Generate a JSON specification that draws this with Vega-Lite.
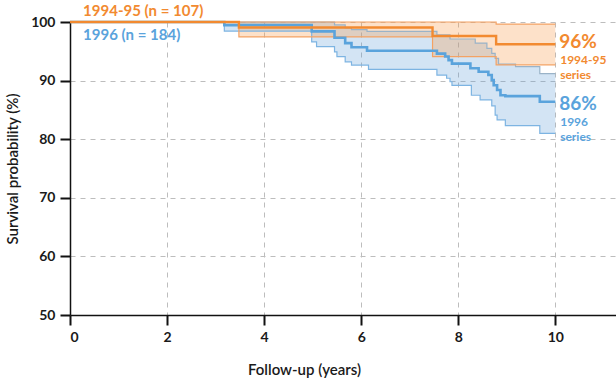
{
  "$schema": "https://vega.github.io/schema/vega-lite/v6.json",
  "width": 546,
  "height": 293,
  "autosize": {"type": "none"},
  "padding": {"left": 70, "top": 22, "right": 0, "bottom": 63},
  "background": "white",
  "config": {
    "view": {"stroke": null},
    "font": "Lato",
    "axis": {
      "domainColor": "#111",
      "domainWidth": 1.5,
      "tickColor": "#111",
      "tickWidth": 2,
      "tickSize": 10,
      "labelFont": "Lato",
      "labelFontSize": 14,
      "labelFontWeight": "bold",
      "labelColor": "#1a1a1a",
      "titleFont": "Lato",
      "titleFontSize": 15,
      "titleFontWeight": 600,
      "titleColor": "#1a1a1a",
      "gridColor": "#bdbdbd",
      "gridDash": [5, 5],
      "gridWidth": 1
    }
  },
  "datasets": {
    "orange": [
      {"t": 0, "s": 100, "lo": 100, "hi": 100},
      {"t": 3.48, "s": 99.07, "lo": 97.45, "hi": 100},
      {"t": 7.47, "s": 97.6, "lo": 94.1, "hi": 100},
      {"t": 8.78, "s": 96.2, "lo": 92.7, "hi": 99.65},
      {"t": 10, "s": 96.2, "lo": 92.7, "hi": 99.65}
    ],
    "blue": [
      {"t": 0, "s": 100, "lo": 100, "hi": 100},
      {"t": 3.18, "s": 99.46, "lo": 98.45, "hi": 100},
      {"t": 4.98, "s": 98.4, "lo": 96.6, "hi": 100},
      {"t": 5.08, "s": 98.4, "lo": 95.8, "hi": 100},
      {"t": 5.45, "s": 97.3, "lo": 94.9, "hi": 99.5},
      {"t": 5.5, "s": 97.3, "lo": 94.1, "hi": 99.5},
      {"t": 5.67, "s": 96.4, "lo": 93.2, "hi": 99.0},
      {"t": 5.8, "s": 95.7, "lo": 92.65, "hi": 98.7},
      {"t": 6.12, "s": 95.1, "lo": 92.65, "hi": 98.4},
      {"t": 6.15, "s": 95.1, "lo": 91.9, "hi": 98.4},
      {"t": 7.56, "s": 94.6, "lo": 90.95, "hi": 97.8},
      {"t": 7.73, "s": 94.1, "lo": 90.95, "hi": 97.8},
      {"t": 7.76, "s": 94.1, "lo": 90.4, "hi": 97.8},
      {"t": 7.8, "s": 93.5, "lo": 90.4, "hi": 97.8},
      {"t": 7.83, "s": 93.5, "lo": 89.8, "hi": 97.1},
      {"t": 7.87, "s": 92.9, "lo": 89.2, "hi": 97.1},
      {"t": 8.25, "s": 92.1, "lo": 89.2, "hi": 97.1},
      {"t": 8.27, "s": 92.1, "lo": 87.5, "hi": 97.1},
      {"t": 8.35, "s": 92.1, "lo": 87.5, "hi": 96.4},
      {"t": 8.42, "s": 91.5, "lo": 87.5, "hi": 96.4},
      {"t": 8.45, "s": 91.5, "lo": 86.7, "hi": 96.4},
      {"t": 8.59, "s": 91.5, "lo": 86.7, "hi": 95.5},
      {"t": 8.62, "s": 90.95, "lo": 86.7, "hi": 95.5},
      {"t": 8.69, "s": 90.1, "lo": 85.7, "hi": 94.65},
      {"t": 8.73, "s": 89.2, "lo": 85.7, "hi": 94.65},
      {"t": 8.76, "s": 89.2, "lo": 84.1, "hi": 93.8},
      {"t": 8.8, "s": 88.4, "lo": 83.3, "hi": 93.8},
      {"t": 8.83, "s": 88.4, "lo": 83.3, "hi": 92.8},
      {"t": 8.87, "s": 87.5, "lo": 83.3, "hi": 92.8},
      {"t": 8.97, "s": 87.35, "lo": 82.3, "hi": 92.8},
      {"t": 9.18, "s": 87.35, "lo": 82.3, "hi": 92.4},
      {"t": 9.68, "s": 86.4, "lo": 81.0, "hi": 91.2},
      {"t": 10, "s": 86.4, "lo": 81.0, "hi": 91.2}
    ],
    "legend": [
      {"t": 0.27, "v": 101.8, "label": "1994-95 (n = 107)", "g": "1994-95"},
      {"t": 0.27, "v": 97.8, "label": "1996 (n = 184)", "g": "1996"}
    ],
    "pct": [
      {"t": 10.08, "v": 96.6, "label": "96%", "g": "1994-95"},
      {"t": 10.08, "v": 86.0, "label": "86%", "g": "1996"}
    ],
    "series": [
      {"t": 10.1, "v": 93.5, "label": "1994-95", "g": "1994-95"},
      {"t": 10.1, "v": 90.9, "label": "series", "g": "1994-95"},
      {"t": 10.1, "v": 82.9, "label": "1996", "g": "1996"},
      {"t": 10.1, "v": 80.3, "label": "series", "g": "1996"}
    ]
  },
  "layer": [
    {
      "data": {"name": "blue"},
      "mark": {"type": "area", "interpolate": "step-after", "color": "#5b9bd5", "opacity": 0.27},
      "encoding": {
        "x": {
          "field": "t", "type": "quantitative",
          "scale": {"domain": [0, 11.25], "nice": false, "zero": false},
          "axis": {
            "values": [0, 2, 4, 6, 8, 10],
            "title": "Follow-up (years)",
            "labelPadding": 5,
            "titleX": 234,
            "titleY": 54,
            "titleBaseline": "middle",
            "titleAnchor": null
          }
        },
        "y": {
          "field": "lo", "type": "quantitative", "stack": null,
          "scale": {"domain": [50, 100], "nice": false, "zero": false},
          "axis": {
            "values": [50, 60, 70, 80, 90, 100],
            "title": "Survival probability (%)",
            "labelPadding": 5,
            "titleX": -58,
            "titleY": 146.5,
            "titleBaseline": "middle"
          }
        },
        "y2": {"field": "hi"}
      }
    },
    {
      "data": {"name": "orange"},
      "mark": {"type": "area", "interpolate": "step-after", "color": "#f79a4c", "opacity": 0.3},
      "encoding": {
        "x": {"field": "t", "type": "quantitative"},
        "y": {"field": "lo", "type": "quantitative", "stack": null},
        "y2": {"field": "hi"}
      }
    },
    {
      "data": {"name": "blue"},
      "mark": {"type": "line", "interpolate": "step-after", "color": "#7db4e2", "strokeWidth": 1.2},
      "encoding": {
        "x": {"field": "t", "type": "quantitative"},
        "y": {"field": "lo", "type": "quantitative"}
      }
    },
    {
      "data": {"name": "blue"},
      "mark": {"type": "line", "interpolate": "step-after", "color": "#9ab3c8", "strokeWidth": 1.2},
      "encoding": {
        "x": {"field": "t", "type": "quantitative"},
        "y": {"field": "hi", "type": "quantitative"}
      }
    },
    {
      "data": {"name": "orange"},
      "mark": {"type": "line", "interpolate": "step-after", "color": "#f4a264", "strokeWidth": 1.2},
      "encoding": {
        "x": {"field": "t", "type": "quantitative"},
        "y": {"field": "lo", "type": "quantitative"}
      }
    },
    {
      "data": {"name": "orange"},
      "mark": {"type": "line", "interpolate": "step-after", "color": "#f4a264", "strokeWidth": 1.2},
      "encoding": {
        "x": {"field": "t", "type": "quantitative"},
        "y": {"field": "hi", "type": "quantitative"}
      }
    },
    {
      "data": {"name": "blue"},
      "mark": {"type": "line", "interpolate": "step-after", "color": "#5aa3dc", "strokeWidth": 2.6},
      "encoding": {
        "x": {"field": "t", "type": "quantitative"},
        "y": {"field": "s", "type": "quantitative"}
      }
    },
    {
      "data": {"name": "orange"},
      "mark": {"type": "line", "interpolate": "step-after", "color": "#f28a30", "strokeWidth": 2.4},
      "encoding": {
        "x": {"field": "t", "type": "quantitative"},
        "y": {"field": "s", "type": "quantitative"}
      }
    },
    {
      "data": {"name": "legend"},
      "mark": {"type": "text", "align": "left", "baseline": "middle", "fontSize": 15, "fontWeight": "bold", "font": "Lato"},
      "encoding": {
        "x": {"field": "t", "type": "quantitative"},
        "y": {"field": "v", "type": "quantitative"},
        "text": {"field": "label"},
        "color": {"field": "g", "type": "nominal", "scale": {"domain": ["1994-95", "1996"], "range": ["#f28a30", "#5aa3dc"]}, "legend": null}
      }
    },
    {
      "data": {"name": "pct"},
      "mark": {"type": "text", "align": "left", "baseline": "middle", "fontSize": 19, "fontWeight": "bold", "font": "Lato"},
      "encoding": {
        "x": {"field": "t", "type": "quantitative"},
        "y": {"field": "v", "type": "quantitative"},
        "text": {"field": "label"},
        "color": {"field": "g", "type": "nominal", "legend": null}
      }
    },
    {
      "data": {"name": "series"},
      "mark": {"type": "text", "align": "left", "baseline": "middle", "fontSize": 12, "fontWeight": "bold", "font": "Lato"},
      "encoding": {
        "x": {"field": "t", "type": "quantitative"},
        "y": {"field": "v", "type": "quantitative"},
        "text": {"field": "label"},
        "color": {"field": "g", "type": "nominal", "legend": null}
      }
    }
  ]
}
